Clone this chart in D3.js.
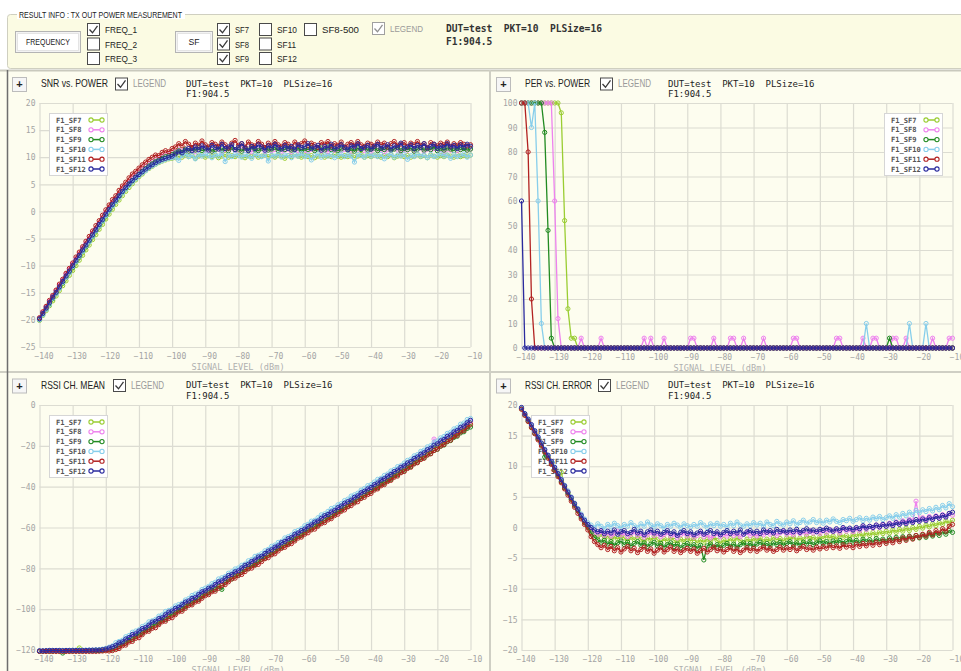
<!DOCTYPE html>
<html>
<head>
<meta charset="utf-8">
<script src="https://cdn.jsdelivr.net/npm/d3@7"></script>
<style>
  body { margin: 0; background: #ffffff; }
  svg { display: block; }
  text { font-family: "Liberation Sans", Arial, sans-serif; }
  .mono { font-family: "DejaVu Sans Mono", "Liberation Mono", monospace; }
</style>
</head>
<body>
<svg id="chart" width="961" height="671"></svg>
<script>
/* ---- chart values ---- */
var levels = d3.range(-140, -9);             // signal level -140 .. -10 dBm, 1 dB steps
var xTicks = [-140, -130, -120, -110, -100, -90, -80, -70, -60, -50, -40, -30, -20, -10];
var sfNames = ["F1_SF7", "F1_SF8", "F1_SF9", "F1_SF10", "F1_SF11", "F1_SF12"];
var sfColors = ["#9acd32", "#ee82ee", "#228b22", "#87ceeb", "#b22222", "#2a2a9e"];

var snrTicks = [20, 15, 10, 5, 0, -5, -10, -15, -20, -25];
var perTicks = [100, 90, 80, 70, 60, 50, 40, 30, 20, 10, 0];
var meanTicks = [0, -20, -40, -60, -80, -100, -120];
var errTicks = [20, 15, 10, 5, 0, -5, -10, -15, -20];

/* SNR vs POWER */
var snrSf7 = [-20.1,-19.2,-18.3,-17.4,-16.5,-15.6,-14.6,-13.7,-12.8,-11.8,
  -10.9,-10.0,-9.0,-8.1,-7.1,-6.2,-5.2,-4.3,-3.3,-2.4,
  -1.4,-0.5,0.4,1.3,2.1,2.9,3.7,4.4,5.1,5.8,
  6.4,6.9,7.5,7.9,8.3,8.7,9.0,9.3,9.5,9.7,9.8,
  9.9,10.2,10.0,10.4,10.1,10.3,9.8,10.2,10.5,10.0,
  10.3,10.1,10.4,9.9,10.2,10.5,10.0,10.3,10.1,10.4,
  10.2,9.9,10.3,10.1,10.5,10.0,10.2,10.4,10.1,10.3,
  10.0,10.4,10.2,9.8,10.3,10.1,10.5,10.2,10.0,10.4,
  10.1,10.3,9.9,10.2,10.4,10.0,10.3,10.1,10.5,10.2,
  10.0,10.3,10.1,10.4,9.9,10.2,10.5,10.0,10.3,10.1,
  10.4,10.2,10.0,10.3,10.1,10.5,9.9,10.2,10.4,10.1,
  10.3,10.0,10.2,10.5,10.1,10.3,9.9,10.4,10.2,10.0,
  10.3,10.1,10.4,10.2,10.0,10.5,10.1,10.3,10.2,10.4];
var snrSf8 = [-19.7,-18.6,-17.6,-16.6,-15.6,-14.6,-13.6,-12.6,-11.6,-10.7,
  -9.7,-8.7,-7.8,-6.8,-5.9,-5.0,-4.0,-3.1,-2.1,-1.2,
  -0.2,0.7,1.6,2.4,3.2,4.0,4.7,5.4,6.1,6.7,
  7.2,7.8,8.3,8.7,9.1,9.5,9.9,10.2,10.5,10.7,10.9,
  11.0,11.4,11.1,11.6,11.2,11.5,11.0,11.4,11.7,11.2,
  11.5,11.1,11.3,11.6,11.0,11.4,11.2,11.7,11.3,11.1,
  11.5,11.2,11.6,11.0,11.4,11.3,11.7,11.1,11.5,11.2,
  11.4,11.6,11.1,11.3,11.5,11.0,11.6,11.2,11.4,11.3,
  11.1,11.5,11.3,11.7,11.2,11.4,11.0,11.6,11.3,11.5,
  11.2,11.4,11.6,11.1,11.5,11.3,11.7,11.2,11.4,11.1,
  11.6,11.3,11.5,11.0,11.4,11.2,11.6,11.3,11.1,11.5,
  11.3,11.6,11.2,11.4,11.7,11.1,11.5,11.3,11.6,11.2,
  11.4,11.1,11.5,11.3,11.6,11.2,11.4,11.7,11.3,11.5];
var snrSf9 = [-19.9,-18.9,-18.0,-17.0,-16.1,-15.1,-14.1,-13.2,-12.2,-11.2,
  -10.3,-9.3,-8.4,-7.4,-6.5,-5.5,-4.6,-3.6,-2.7,-1.7,
  -0.8,0.2,1.1,1.9,2.8,3.6,4.3,5.0,5.7,6.3,
  6.9,7.4,7.9,8.4,8.8,9.2,9.5,9.8,10.1,10.3,10.5,
  10.8,11.2,10.9,11.5,11.1,11.6,11.3,11.8,11.2,11.5,
  11.7,11.1,11.4,11.9,11.3,11.6,11.2,11.8,11.4,11.5,
  11.1,11.7,11.3,11.9,11.4,11.2,11.6,11.8,11.3,11.5,
  11.8,11.2,11.6,11.4,11.9,11.3,11.5,11.7,11.1,11.6,
  11.4,11.8,11.2,11.5,11.7,11.3,11.9,11.4,11.6,11.2,
  11.5,11.8,11.3,11.6,11.1,11.7,11.4,11.9,11.3,11.5,
  11.7,11.2,11.6,11.4,11.8,11.3,11.5,11.9,11.2,11.6,
  11.4,11.7,11.1,11.5,11.8,11.3,11.6,11.4,11.9,11.2,
  11.6,11.3,11.7,11.5,11.2,11.8,11.4,11.6,11.3,11.5];
var snrSf10 = [-20.0,-19.1,-18.1,-17.2,-16.0,-15.2,-14.2,-13.1,-12.2,-11.3,
  -10.2,-9.3,-8.3,-7.4,-6.4,-5.6,-4.6,-3.6,-2.7,-1.8,
  -0.8,0.1,1.0,1.8,2.6,3.4,4.1,4.8,5.4,6.0,
  6.6,7.1,7.5,8.0,8.4,8.7,9.1,9.3,9.6,9.8,9.9,
  10.0,9.4,10.3,10.6,10.1,10.4,9.7,10.5,10.2,10.6,
  10.3,9.9,10.5,10.2,10.7,9.2,10.4,10.1,10.6,10.3,
  10.0,10.5,10.2,9.8,10.6,10.3,10.1,10.5,9.3,10.4,
  10.2,10.6,10.0,10.4,10.3,9.9,10.5,10.2,10.7,10.1,
  10.4,9.5,10.3,10.6,10.0,10.4,10.2,10.5,9.9,10.3,
  10.6,10.1,10.4,10.2,9.1,10.5,10.3,10.0,10.6,10.2,
  10.4,10.1,10.5,9.7,10.3,10.6,10.0,10.4,10.2,10.5,
  9.6,10.3,10.1,10.6,10.2,10.4,9.9,10.5,10.1,10.3,
  10.6,10.2,10.4,9.8,10.5,10.1,10.3,10.6,10.0,10.4];
var snrSf11 = [-19.6,-18.5,-17.5,-16.4,-15.5,-14.5,-13.4,-12.5,-11.4,-10.5,
  -9.5,-8.4,-7.5,-6.5,-5.5,-4.6,-3.6,-2.6,-1.7,-0.7,
  0.3,1.2,2.2,2.9,3.9,4.7,5.4,6.2,6.9,7.4,
  8.0,8.6,9.1,9.6,10.0,10.4,10.3,10.9,11.2,11.0,11.6,
  11.9,12.5,12.1,12.9,12.4,11.8,12.6,12.2,13.0,12.3,
  11.9,12.7,12.4,12.0,12.8,12.3,11.7,12.6,13.1,12.2,
  12.5,11.9,12.8,12.3,12.1,12.9,12.4,11.8,12.6,12.2,
  12.9,12.3,12.0,12.7,12.4,11.9,12.8,12.2,12.5,13.0,
  12.1,12.6,12.3,11.8,12.7,12.4,12.9,12.1,12.5,12.2,
  12.8,11.9,12.4,12.7,12.2,12.9,12.3,12.0,12.6,12.4,
  12.1,12.8,12.3,12.6,11.9,12.5,12.9,12.2,12.4,12.7,
  12.0,12.6,12.3,12.9,12.2,12.5,11.8,12.7,12.4,12.1,
  12.6,12.3,12.8,12.0,12.5,12.2,12.7,12.4,12.1,12.3];
var snrSf12 = [-19.8,-18.8,-17.8,-16.8,-15.8,-14.9,-13.9,-12.9,-11.9,-11.0,
  -10.0,-9.0,-8.1,-7.1,-6.2,-5.3,-4.3,-3.4,-2.4,-1.5,
  -0.5,0.4,1.3,2.1,2.9,3.7,4.4,5.1,5.7,6.3,
  6.8,7.3,7.8,8.2,8.6,9.0,9.3,9.6,9.8,10.0,10.2,
  10.6,11.0,10.8,11.3,11.6,11.2,11.9,11.4,12.1,11.7,
  11.3,12.2,11.8,11.5,12.4,11.6,11.9,12.3,11.4,11.8,
  12.5,11.7,11.2,12.0,11.6,12.3,11.9,11.3,12.1,11.7,
  12.4,11.8,11.5,12.2,11.6,12.0,11.4,12.3,11.8,11.9,
  12.5,11.6,11.9,12.2,11.3,12.0,11.7,12.4,11.5,11.9,
  12.3,11.8,11.4,12.1,11.9,12.5,11.6,11.8,12.2,11.5,
  12.0,12.4,11.7,11.9,12.3,11.5,12.1,11.8,12.6,11.7,
  11.9,12.3,11.6,12.2,11.8,12.5,11.7,12.0,12.4,11.6,
  12.1,11.8,12.5,11.9,12.2,11.6,12.3,11.8,12.4,12.0];

/* PER vs POWER (%) */
var perSf7 = [100,100,100,100,100,100,100,100,100,100,
  100,100,96,52,16,4,4,0,0,0,
  0,0,0,0,0,0,0,0,0,0, 0,0,0,0,0,0,0,0,0,0,
  0,0,0,0,0,0,0,0,0,0, 0,0,0,0,0,0,0,0,0,0,
  0,0,0,0,0,0,0,0,0,0, 0,0,0,0,0,0,0,0,0,0,
  0,0,0,0,0,0,0,0,0,0, 0,0,0,0,0,0,0,0,0,0,
  0,0,0,0,0,0,0,0,0,0, 0,0,0,0,0,0,0,0,0,0,
  0,0,0,0,0,0,0,0,0,0, 0];
var perSf8 = [100,100,100,100,100,100,100,100,100,100,
  60,12,0,0,0,0,0,0,4,0,
  0,0,0,0,4,0,0,0,0,0,
  0,0,0,0,0,0,0,4,0,4,
  0,0,0,4,0,0,0,0,0,0,
  0,4,4,0,0,0,0,0,4,0,
  0,0,0,4,4,0,0,4,0,0,
  0,0,0,4,0,0,0,0,0,0,
  0,0,4,4,0,0,0,0,0,0,
  0,0,0,0,0,4,4,0,0,0,
  0,0,0,4,0,0,4,4,0,0,
  0,0,4,4,0,0,4,0,0,0,
  0,0,0,0,4,0,0,0,0,4,
  4];
var perSf9 = [100,100,100,100,100,100,100,88,48,4,
  0,0,0,0,0,0,0,0,0,0, 0,0,0,0,0,0,0,0,0,0,
  0,0,0,0,0,0,0,0,0,0, 0,0,0,0,0,0,0,0,0,0,
  0,0,0,0,0,0,0,0,0,0, 0,0,0,0,0,0,0,0,0,0,
  0,0,0,0,0,0,0,0,0,0, 0,0,0,0,0,0,0,0,0,0,
  0,0,0,0,0,0,0,0,0,0, 0,0,0,0,0,0,0,0,0,0,
  0,4,0,0,0,0,0,0,0,0, 0,0,0,0,0,0,0,0,0,0,
  0];
var perSf10 = [100,100,100,90,100,60,10,0,0,0,
  0,0,0,0,0,0,0,0,0,0, 0,0,0,0,0,0,0,0,0,0,
  0,0,0,0,0,0,0,0,0,0, 0,0,0,0,0,0,0,0,0,0,
  0,0,0,0,0,0,0,0,0,0, 0,0,0,0,0,0,0,0,0,0,
  0,0,0,0,0,0,0,0,0,0, 0,0,0,0,0,0,0,0,0,0,
  0,0,0,0,0,0,0,0,0,0, 0,0,0,0,10,0,0,0,0,0,
  0,0,0,0,0,0,0,10,0,0, 0,0,10,0,0,0,0,0,0,0,
  0];
var perSf11 = [100,100,80,20,0,0,0,0,0,0,
  0,0,0,0,0,0,0,0,0,0, 0,0,0,0,0,0,0,0,0,0,
  0,0,0,0,0,0,0,0,0,0, 0,0,0,0,0,0,0,0,0,0,
  0,0,0,0,0,0,0,0,0,0, 0,0,0,0,0,0,0,0,0,0,
  0,0,0,0,0,0,0,0,0,0, 0,0,0,0,0,0,0,0,0,0,
  0,0,0,0,0,0,0,0,0,0, 0,0,0,0,0,0,0,0,0,0,
  0,0,0,0,0,0,0,0,0,0, 0,0,0,0,0,0,0,0,0,0,
  0];
var perSf12 = [60,0,0,0,0,0,0,0,0,0,
  0,0,0,0,0,0,0,0,0,0, 0,0,0,0,0,0,0,0,0,0,
  0,0,0,0,0,0,0,0,0,0, 0,0,0,0,0,0,0,0,0,0,
  0,0,0,0,0,0,0,0,0,0, 0,0,0,0,0,0,0,0,0,0,
  0,0,0,0,0,0,0,0,0,0, 0,0,0,0,0,0,0,0,0,0,
  0,0,0,0,0,0,0,0,0,0, 0,0,0,0,0,0,0,0,0,0,
  0,0,0,0,0,0,0,0,0,0, 0,0,0,0,0,0,0,0,0,0,
  0];

/* RSSI CH. MEAN (dBm) */
var meanSf7 = [-120.6,-120.6,-120.5,-120.5,-120.5,-120.5,-120.4,-120.4,-120.4,-120.4,
  -120.4,-120.3,-119.0,-120.3,-120.3,-120.3,-120.2,-120.2,-120.2,-120.0,-119.8,
  -119.6,-119.2,-118.5,-117.1,-116.8,-115.4,-115.0,-113.5,-112.9,-111.3,
  -110.7,-110.2,-108.6,-108.0,-106.4,-105.9,-105.3,-103.7,-103.1,-101.5,
  -101.0,-100.4,-98.8,-98.2,-96.6,-96.1,-95.5,-93.9,-93.3,-91.7,
  -91.2,-89.8,-89.5,-88.0,-87.4,-85.9,-85.3,-83.7,-83.1,-82.6,
  -81.0,-80.4,-78.8,-78.2,-76.7,-76.1,-75.5,-73.9,-73.3,-71.8,
  -71.1,-69.7,-69.3,-67.9,-67.2,-65.6,-65.0,-63.8,-63.2,-61.7,
  -60.9,-59.5,-59.1,-57.7,-57.0,-55.4,-54.8,-53.6,-53.0,-51.5,
  -50.8,-49.3,-48.7,-47.4,-46.9,-45.2,-44.6,-43.3,-42.7,-41.1,
  -40.5,-39.0,-38.4,-36.9,-36.3,-34.8,-34.2,-32.7,-32.0,-30.6,
  -29.9,-28.4,-27.8,-26.3,-25.6,-24.1,-23.5,-22.0,-21.3,-19.8,
  -19.1,-17.6,-16.9,-15.4,-14.7,-13.2,-12.5,-10.9,-10.3,-8.8];
var meanSf8 = [-120.5,-120.5,-120.5,-120.4,-120.4,-120.4,-120.4,-120.3,-120.3,-120.3,
  -120.3,-120.2,-120.2,-120.2,-120.2,-120.2,-120.1,-120.1,-120.0,-119.9,-119.6,
  -119.3,-118.8,-118.1,-116.7,-116.3,-114.9,-114.4,-113.0,-111.6,-111.2,
  -109.9,-109.5,-108.1,-106.7,-106.3,-105.0,-104.6,-103.2,-101.8,-101.3,
  -100.0,-99.5,-98.2,-96.8,-96.4,-95.1,-94.7,-93.2,-91.9,-91.4,
  -90.1,-89.6,-88.3,-86.9,-86.5,-85.2,-84.7,-83.3,-82.0,-81.5,
  -80.1,-79.4,-77.9,-77.3,-76.0,-75.5,-74.1,-72.8,-72.3,-71.0,
  -70.4,-68.9,-68.2,-66.7,-66.1,-64.8,-64.3,-62.9,-61.6,-61.1,
  -59.8,-59.2,-57.6,-57.0,-55.7,-55.1,-53.5,-52.9,-51.6,-51.0,
  -49.4,-48.8,-47.3,-46.7,-45.4,-44.9,-43.2,-42.6,-41.3,-40.7,
  -39.2,-38.5,-36.9,-36.3,-34.8,-34.1,-32.6,-32.0,-30.4,-29.8,
  -28.3,-27.6,-26.1,-25.4,-23.9,-23.2,-21.7,-21.0,-16.7,-18.8,
  -17.4,-16.7,-15.2,-14.6,-13.1,-12.4,-10.9,-10.2,-8.7,-8.0];
var meanSf9 = [-120.6,-120.6,-120.6,-120.6,-120.6,-120.5,-120.5,-121.5,-120.5,-120.5,
  -120.5,-120.5,-120.5,-120.5,-120.4,-120.4,-120.4,-120.3,-120.3,-120.2,-120.0,
  -119.9,-119.6,-119.0,-118.4,-117.1,-116.7,-115.3,-114.9,-113.5,-112.2,
  -111.8,-110.4,-110.0,-108.6,-107.3,-106.9,-105.5,-105.1,-103.7,-102.4,
  -102.0,-100.6,-100.2,-98.8,-97.5,-97.1,-95.7,-95.3,-93.9,-92.6,
  -92.1,-90.8,-90.4,-88.9,-90.3,-87.0,-85.7,-85.2,-83.8,-83.3,
  -81.9,-80.6,-80.1,-78.7,-78.2,-76.8,-75.5,-75.0,-73.6,-73.1,
  -71.7,-70.4,-69.9,-68.6,-68.0,-66.5,-65.8,-64.4,-63.9,-62.6,
  -61.3,-60.8,-59.5,-58.9,-57.4,-56.7,-55.3,-54.8,-53.5,-52.2,
  -51.6,-50.3,-49.7,-48.2,-47.5,-46.1,-45.6,-44.3,-43.0,-42.4,
  -41.1,-40.5,-38.9,-38.3,-37.0,-36.4,-34.8,-34.2,-32.9,-32.3,
  -30.7,-30.1,-28.6,-28.0,-26.5,-25.9,-24.4,-23.8,-22.3,-21.7,
  -20.2,-19.6,-18.0,-17.4,-15.9,-15.3,-13.7,-13.1,-11.5,-10.8];
var meanSf10 = [-120.5,-120.5,-120.4,-120.4,-120.3,-120.3,-120.3,-120.2,-120.2,-120.2,
  -120.1,-120.1,-120.1,-120.1,-120.0,-120.0,-120.0,-119.9,-119.8,-119.6,-119.2,
  -118.6,-118.0,-116.4,-115.8,-115.2,-113.5,-112.9,-111.3,-110.7,-110.1,
  -108.5,-107.8,-106.2,-105.7,-105.0,-103.4,-102.8,-101.1,-100.6,-99.9,
  -98.4,-97.7,-97.1,-95.5,-94.8,-93.3,-92.6,-92.0,-90.4,-89.7,
  -88.9,-87.5,-86.8,-85.2,-84.6,-84.0,-82.4,-81.7,-80.3,-79.8,
  -78.5,-77.9,-76.3,-75.7,-74.1,-73.6,-72.8,-71.4,-70.7,-69.2,
  -68.6,-67.3,-66.8,-65.1,-64.5,-63.7,-62.0,-61.4,-60.6,-59.1,
  -58.4,-56.9,-56.5,-55.2,-53.8,-53.3,-52.1,-50.7,-50.2,-48.9,
  -48.3,-46.8,-46.1,-44.6,-44.0,-43.2,-41.7,-40.9,-39.5,-39.0,
  -37.7,-36.4,-35.9,-34.5,-33.8,-32.3,-31.6,-30.2,-29.7,-28.4,
  -27.1,-26.5,-24.9,-24.3,-22.7,-22.1,-20.5,-19.9,-18.2,-17.6,
  -16.1,-15.4,-13.9,-13.3,-11.7,-11.1,-9.4,-8.8,-7.1,-6.6];
var meanSf11 = [-120.7,-120.7,-120.7,-120.7,-120.7,-120.7,-120.7,-120.7,-120.7,-120.7,
  -120.7,-120.7,-120.7,-120.7,-120.7,-120.7,-120.7,-120.7,-120.6,-120.5,-120.4,
  -120.5,-120.3,-119.8,-119.3,-117.9,-117.6,-116.1,-115.8,-114.3,-114.0,
  -112.5,-111.1,-110.8,-109.4,-109.1,-107.6,-106.2,-105.9,-104.5,-104.2,
  -102.7,-101.3,-101.0,-99.6,-98.2,-97.9,-96.5,-96.1,-94.7,-93.4,
  -92.9,-91.5,-91.2,-89.8,-88.4,-88.0,-86.6,-85.2,-84.8,-83.5,
  -83.0,-81.6,-80.3,-79.9,-78.5,-78.1,-76.7,-75.3,-74.8,-73.4,
  -72.9,-71.5,-70.2,-69.7,-68.4,-67.9,-66.6,-65.2,-64.7,-63.3,
  -62.6,-61.2,-60.8,-59.4,-58.1,-57.6,-56.3,-55.7,-54.2,-53.5,
  -52.1,-51.4,-49.9,-49.3,-48.0,-47.4,-45.8,-45.2,-43.9,-43.3,
  -41.7,-41.1,-39.6,-39.0,-37.5,-36.9,-35.4,-34.8,-33.2,-32.6,
  -31.1,-30.5,-28.9,-28.3,-26.7,-26.1,-24.5,-23.9,-22.3,-21.6,
  -20.1,-19.4,-17.8,-17.2,-15.5,-14.9,-13.2,-12.6,-10.8,-9.5];
var meanSf12 = [-120.4,-120.4,-120.3,-120.2,-120.2,-120.2,-120.2,-120.3,-120.2,-120.2,
  -120.2,-120.2,-120.2,-120.2,-120.2,-120.1,-120.1,-120.0,-120.0,-119.8,-119.5,
  -119.0,-118.4,-117.7,-116.5,-116.0,-114.6,-113.9,-112.4,-112.1,-110.7,
  -109.5,-109.0,-107.8,-106.3,-105.9,-104.6,-104.2,-102.7,-101.4,-100.9,
  -99.6,-99.1,-97.8,-96.5,-96.0,-94.7,-94.3,-92.8,-91.5,-91.0,
  -89.7,-89.2,-87.9,-86.6,-86.1,-84.8,-83.5,-83.0,-81.7,-81.2,
  -79.8,-78.5,-78.0,-76.6,-75.9,-74.4,-74.1,-72.7,-71.5,-70.9,
  -69.6,-69.0,-67.4,-66.8,-65.5,-64.9,-63.3,-62.7,-61.5,-60.8,
  -59.4,-58.7,-57.3,-56.8,-55.5,-54.2,-53.6,-52.4,-51.7,-50.3,
  -49.5,-48.1,-47.4,-46.6,-45.2,-44.5,-43.0,-42.3,-41.1,-40.4,
  -39.0,-38.2,-36.7,-36.1,-34.8,-34.0,-32.6,-31.9,-30.5,-29.8,
  -28.4,-27.7,-26.2,-25.5,-24.1,-23.4,-21.9,-21.2,-19.7,-19.0,
  -17.6,-16.9,-15.4,-14.7,-13.2,-12.5,-11.0,-10.3,-8.7,-7.5];

/* RSSI CH. ERROR (dB) */
var errSf7 = [19.4,18.4,17.5,16.5,15.5,14.5,13.6,12.6,11.6,10.6,
  9.6,8.7,9.0,6.7,5.7,4.7,3.8,2.8,1.8,1.0,0.2,
  -0.6,-1.2,-1.5,-1.1,-1.8,-1.4,-2.0,-1.5,-1.9,-1.3,
  -1.7,-2.2,-1.6,-2.0,-1.4,-1.9,-2.3,-1.7,-2.1,-1.5,
  -2.0,-2.4,-1.8,-2.2,-1.6,-2.1,-2.5,-1.9,-2.3,-1.7,
  -2.2,-1.8,-2.5,-2.0,-2.4,-1.9,-2.3,-1.7,-2.1,-2.6,
  -2.0,-2.4,-1.8,-2.2,-1.7,-2.1,-2.5,-1.9,-2.3,-1.8,
  -2.1,-1.7,-2.3,-1.9,-2.2,-1.6,-2.0,-1.8,-2.2,-1.7,
  -1.9,-1.5,-2.1,-1.7,-2.0,-1.4,-1.8,-1.6,-2.0,-1.5,
  -1.8,-1.3,-1.7,-1.4,-1.9,-1.2,-1.6,-1.3,-1.7,-1.1,
  -1.5,-1.0,-1.4,-0.9,-1.3,-0.8,-1.2,-0.7,-1.0,-0.6,
  -0.9,-0.4,-0.8,-0.3,-0.6,-0.1,-0.5,0.0,-0.3,0.2,
  -0.1,0.4,0.1,0.6,0.3,0.8,0.5,1.1,0.7,1.2];
var errSf8 = [19.5,18.5,17.5,16.6,15.6,14.6,13.6,12.7,11.7,10.7,
  9.7,8.8,7.8,6.8,5.8,4.8,3.9,2.9,2.0,1.1,0.4,
  -0.3,-0.8,-1.1,-0.7,-1.3,-0.9,-1.4,-1.0,-0.6,-1.2,
  -0.9,-1.5,-1.1,-0.7,-1.3,-1.0,-1.6,-1.2,-0.8,-1.3,
  -1.0,-1.5,-1.2,-0.8,-1.4,-1.1,-1.7,-1.2,-0.9,-1.4,
  -1.1,-1.6,-1.3,-0.9,-1.5,-1.2,-1.7,-1.3,-1.0,-1.5,
  -1.1,-1.4,-0.9,-1.3,-1.0,-1.5,-1.1,-0.8,-1.3,-1.0,
  -1.4,-0.9,-1.2,-0.7,-1.1,-0.8,-1.3,-0.9,-0.6,-1.1,
  -0.8,-1.2,-0.6,-1.0,-0.7,-1.1,-0.5,-0.9,-0.6,-1.0,
  -0.4,-0.8,-0.3,-0.7,-0.4,-0.9,-0.2,-0.6,-0.3,-0.7,
  -0.2,-0.5,0.1,-0.3,0.2,-0.1,0.4,0.0,0.6,0.2,
  0.7,0.4,0.9,0.6,1.1,0.8,1.3,1.0,4.3,1.2,
  1.6,1.3,1.8,1.4,1.9,1.6,2.1,1.8,2.3,2.0];
var errSf9 = [19.4,18.4,17.4,16.4,15.4,14.5,13.5,11.5,11.5,10.5,
  9.5,8.5,7.5,6.5,5.6,4.6,3.6,2.7,1.7,0.8,0.0,
  -0.9,-1.6,-2.0,-2.4,-2.1,-2.7,-2.3,-2.9,-2.5,-2.2,
  -2.8,-2.4,-3.0,-2.6,-2.3,-2.9,-2.5,-3.1,-2.7,-2.4,
  -3.0,-2.6,-3.2,-2.8,-2.5,-3.1,-2.7,-3.3,-2.9,-2.6,
  -3.1,-2.8,-3.4,-2.9,-5.3,-3.0,-2.7,-3.2,-2.8,-3.3,
  -2.9,-2.6,-3.1,-2.7,-3.2,-2.8,-2.5,-3.0,-2.6,-3.1,
  -2.7,-2.4,-2.9,-2.6,-3.0,-2.5,-2.8,-2.4,-2.9,-2.6,
  -2.3,-2.8,-2.5,-2.9,-2.4,-2.7,-2.3,-2.8,-2.5,-2.2,
  -2.6,-2.3,-2.7,-2.2,-2.5,-2.1,-2.6,-2.3,-2.0,-2.4,
  -2.1,-2.5,-1.9,-2.3,-2.0,-2.4,-1.8,-2.2,-1.9,-2.3,
  -1.7,-2.1,-1.6,-2.0,-1.5,-1.9,-1.4,-1.8,-1.3,-1.7,
  -1.2,-1.6,-1.0,-1.4,-0.9,-1.3,-0.7,-1.1,-0.5,-0.8];
var errSf10 = [19.5,18.5,17.6,16.6,15.7,14.7,13.7,12.8,11.8,10.8,
  9.9,8.9,7.9,6.9,6.0,5.0,4.0,3.1,2.2,1.4,0.8,
  0.4,0.0,0.6,0.2,-0.2,0.5,0.1,0.7,0.3,-0.1,
  0.5,0.2,0.8,0.3,0.0,0.6,0.2,0.9,0.4,0.1,
  0.6,0.3,-0.1,0.5,0.2,0.7,0.4,0.0,0.6,0.3,
  0.1,0.5,0.2,0.8,0.4,0.0,0.6,0.3,0.7,0.2,
  0.5,0.1,0.7,0.3,0.9,0.4,0.2,0.6,0.3,0.8,
  0.4,0.7,0.2,0.9,0.5,0.3,1.0,0.6,0.4,0.9,
  0.6,1.1,0.5,0.8,1.2,0.7,0.9,1.3,0.8,1.1,
  0.7,1.2,0.9,1.4,1.0,0.8,1.3,1.1,1.5,1.0,
  1.3,1.6,1.1,1.5,1.2,1.7,1.4,1.8,1.3,1.6,
  1.9,1.5,2.1,1.7,2.3,1.9,2.5,2.1,2.8,2.4,
  2.9,2.6,3.1,2.7,3.3,2.9,3.6,3.2,3.9,3.4];
var errSf11 = [19.3,18.3,17.3,16.3,15.3,14.3,13.3,12.3,11.3,10.3,
  9.3,8.3,7.3,6.3,5.3,4.3,3.3,2.3,1.4,0.5,-0.4,
  -1.5,-2.3,-2.8,-3.3,-2.9,-3.6,-3.1,-3.8,-3.3,-4.0,
  -3.5,-3.1,-3.8,-3.4,-4.1,-3.6,-3.2,-3.9,-3.5,-4.2,
  -3.7,-3.3,-4.0,-3.6,-3.2,-3.9,-3.5,-4.1,-3.7,-3.4,
  -3.9,-3.5,-4.2,-3.8,-3.4,-4.0,-3.6,-3.2,-3.8,-3.5,
  -4.0,-3.6,-3.3,-3.9,-3.5,-4.1,-3.7,-3.3,-3.8,-3.4,
  -3.9,-3.5,-3.2,-3.7,-3.4,-3.9,-3.6,-3.2,-3.7,-3.3,
  -3.6,-3.2,-3.8,-3.4,-3.1,-3.6,-3.3,-3.7,-3.2,-3.5,
  -3.1,-3.4,-2.9,-3.3,-3.0,-3.4,-2.8,-3.2,-2.9,-3.3,
  -2.7,-3.1,-2.6,-3.0,-2.5,-2.9,-2.4,-2.8,-2.2,-2.6,
  -2.1,-2.5,-1.9,-2.3,-1.7,-2.1,-1.5,-1.9,-1.3,-1.6,
  -1.1,-1.4,-0.8,-1.2,-0.5,-0.9,-0.2,-0.6,0.2,0.5];
var errSf12 = [19.6,18.6,17.7,16.8,15.8,14.8,13.8,12.7,11.8,10.8,
  9.8,8.8,7.8,6.8,5.8,4.9,3.9,3.0,2.0,1.2,0.5,
  0.0,-0.4,-0.7,-0.5,-1.0,-0.6,-0.9,-0.4,-1.1,-0.7,
  -0.5,-1.0,-0.8,-0.3,-0.9,-0.6,-1.2,-0.7,-0.4,-0.9,
  -0.6,-1.1,-0.8,-0.5,-1.0,-0.7,-1.3,-0.8,-0.5,-1.0,
  -0.7,-1.2,-0.9,-0.6,-1.1,-0.8,-0.5,-1.0,-0.7,-1.2,
  -0.8,-0.5,-1.0,-0.6,-0.9,-0.4,-1.1,-0.7,-0.5,-0.9,
  -0.6,-1.0,-0.4,-0.8,-0.5,-0.9,-0.3,-0.7,-0.5,-0.8,
  -0.4,-0.7,-0.3,-0.8,-0.5,-0.2,-0.6,-0.4,-0.7,-0.3,
  -0.5,-0.1,-0.4,-0.6,-0.2,-0.5,0.0,-0.3,-0.1,-0.4,
  0.0,-0.2,0.3,-0.1,0.2,0.0,0.4,0.1,0.5,0.2,
  0.6,0.3,0.8,0.5,0.9,0.6,1.1,0.8,1.3,1.0,
  1.4,1.1,1.6,1.3,1.8,1.5,2.0,1.7,2.3,2.5];

/* ---- drawing ---- */
var svg = d3.select("#chart");
var paleBg = "#fdfdef", headBg = "#fbfbe3", gridCol = "#dcdcd2";

svg.append("rect").attr("width", 961).attr("height", 671).attr("fill", paleBg);
svg.append("rect").attr("width", 961).attr("height", 70).attr("fill", "#ffffff");

// UI label; len squeezes the text to the narrow look of the original UI font
function label(g, x, y, txt, size, fill, len) {
  var t = g.append("text").attr("x", x).attr("y", y).attr("font-size", size).attr("fill", fill).text(txt);
  if (len) t.attr("textLength", len).attr("lengthAdjust", "spacingAndGlyphs");
  return t;
}
function checkbox(g, x, y, checked, disabled) {
  g.append("rect").attr("x", x + 0.5).attr("y", y + 0.5).attr("width", 12).attr("height", 12)
    .attr("fill", "#ffffff").attr("stroke", disabled ? "#a0a0a0" : "#4a4a4a");
  if (checked) {
    g.append("path")
      .attr("d", "M" + (x + 2.5) + "," + (y + 6.5) + "L" + (x + 5.5) + "," + (y + 9.8) + "L" + (x + 10.5) + "," + (y + 2.8))
      .attr("fill", "none").attr("stroke", disabled ? "#909090" : "#3a3a3a").attr("stroke-width", 1.3);
  }
}
function button(g, x, y, w, h, txt, len) {
  g.append("rect").attr("x", x + 0.5).attr("y", y + 0.5).attr("width", w).attr("height", h)
    .attr("fill", "#f3f3f3").attr("stroke", "#b4b4b4");
  g.append("rect").attr("x", x + 2.5).attr("y", y + 2.5).attr("width", w - 4).attr("height", h - 4)
    .attr("fill", "#ffffff").attr("stroke", "#e4e4e4");
  label(g, x + w / 2 + 0.5, y + h / 2 + 3.5, txt, 9.5, "#222", len).attr("text-anchor", "middle");
}

/* header: RESULT INFO box */
var head = svg.append("g");
head.append("rect").attr("x", 7.5).attr("y", 14.5).attr("width", 965).attr("height", 54).attr("rx", 3)
  .attr("fill", headBg).attr("stroke", "#cfcfc0");
head.append("rect").attr("x", 17).attr("y", 9).attr("width", 168).attr("height", 10).attr("fill", "#ffffff");
label(head, 19, 17.5, "RESULT INFO : TX OUT POWER MEASUREMENT", 9.4, "#222", 163);
button(head, 15, 31, 65, 21, "FREQUENCY", 44);
[["FREQ_1", true], ["FREQ_2", false], ["FREQ_3", false]].forEach(function (f, i) {
  checkbox(head, 87, 23 + i * 14.5, f[1], false);
  label(head, 105, 33 + i * 14.5, f[0], 9.4, "#222", 32);
});
button(head, 175, 31, 37, 21, "SF", 11);
[["SF7", true, 217, 0, 14], ["SF8", true, 217, 1, 14], ["SF9", true, 217, 2, 14],
 ["SF10", false, 259, 0, 20], ["SF11", false, 259, 1, 19], ["SF12", false, 259, 2, 20],
 ["SF8-500", false, 304, 0, 37]].forEach(function (f) {
  checkbox(head, f[2], 23 + f[3] * 14.5, f[1], false);
  label(head, f[2] + 18, 33 + f[3] * 14.5, f[0], 9.4, "#222", f[4]);
});
checkbox(head, 372, 22, true, true);
label(head, 390, 32, "LEGEND", 9.4, "#9a9a9a", 33);
head.append("text").attr("class", "mono").attr("x", 446).attr("y", 32).attr("font-size", 9.6).attr("font-weight", "bold")
  .attr("fill", "#333").attr("xml:space", "preserve").text("DUT=test  PKT=10  PLSize=16");
head.append("text").attr("class", "mono").attr("x", 446).attr("y", 45).attr("font-size", 9.6).attr("font-weight", "bold")
  .attr("fill", "#333").text("F1:904.5");

/* panel frames */
svg.append("line").attr("x1", 0).attr("x2", 961).attr("y1", 70.5).attr("y2", 70.5).attr("stroke", "#c9c9bd").attr("stroke-width", 2);
svg.append("line").attr("x1", 0).attr("x2", 961).attr("y1", 372).attr("y2", 372).attr("stroke", "#cfcfc4").attr("stroke-width", 2);
svg.append("line").attr("x1", 490).attr("x2", 490).attr("y1", 70).attr("y2", 671).attr("stroke", "#cfcfc4").attr("stroke-width", 2);
svg.append("line").attr("x1", 7.5).attr("x2", 7.5).attr("y1", 70).attr("y2", 671).attr("stroke", "#6e6e6e").attr("stroke-width", 1.5);

var panels = [
  { title: "SNR vs. POWER", tlen: 67, x0: 8, y0: 72, cb: 115, dut: 186, left: 39.5, right: 470.5, top: 103, bottom: 347,
    domain: [-25, 20], ticks: snrTicks, legendX: 49, series: [snrSf7, snrSf8, snrSf9, snrSf10, snrSf11, snrSf12] },
  { title: "PER vs. POWER", tlen: 65, x0: 492, y0: 72, cb: 600, dut: 668, left: 521.5, right: 952.5, top: 103, bottom: 348,
    domain: [0, 100], ticks: perTicks, legendX: 884, series: [perSf7, perSf8, perSf9, perSf10, perSf11, perSf12] },
  { title: "RSSI CH. MEAN", tlen: 64, x0: 8, y0: 373.5, cb: 113, dut: 186, left: 39.5, right: 470.5, top: 405, bottom: 650,
    domain: [-120, 0], ticks: meanTicks, legendX: 49, series: [meanSf7, meanSf8, meanSf9, meanSf10, meanSf11, meanSf12] },
  { title: "RSSI CH. ERROR", tlen: 67, x0: 492, y0: 373.5, cb: 598, dut: 668, left: 521.5, right: 952.5, top: 405, bottom: 650,
    domain: [-20, 20], ticks: errTicks, legendX: 531, series: [errSf7, errSf8, errSf9, errSf10, errSf11, errSf12] }
];

panels.forEach(function (p) {
  var g = svg.append("g");

  // small "+" button, title and options row
  g.append("rect").attr("x", p.x0 + 4.5).attr("y", p.y0 + 5.5).attr("width", 14).attr("height", 14)
    .attr("fill", "#f6f6f6").attr("stroke", "#bcbcbc");
  g.append("text").attr("x", p.x0 + 11.5).attr("y", p.y0 + 16).attr("text-anchor", "middle")
    .attr("font-size", 11).attr("font-weight", "bold").attr("fill", "#222").text("+");
  label(g, p.x0 + 33, p.y0 + 15, p.title, 10.4, "#222", p.tlen);
  checkbox(g, p.cb, p.y0 + 5.5, true, false);
  label(g, p.cb + 18, p.y0 + 15, "LEGEND", 10.4, "#9a9a9a", 33);
  g.append("text").attr("class", "mono").attr("x", p.dut).attr("y", p.y0 + 14.5).attr("font-size", 9)
    .attr("fill", "#1e1e1e").attr("xml:space", "preserve").text("DUT=test  PKT=10  PLSize=16");
  g.append("text").attr("class", "mono").attr("x", p.dut).attr("y", p.y0 + 25).attr("font-size", 9)
    .attr("fill", "#1e1e1e").text("F1:904.5");

  var x = d3.scaleLinear().domain([-140, -10]).range([p.left, p.right]);
  var y = d3.scaleLinear().domain(p.domain).range([p.bottom, p.top]);
  var w = p.right - p.left, h = p.bottom - p.top;

  // grid + tick labels from d3 axes
  var gx = g.append("g").attr("transform", "translate(0," + p.top + ")")
    .call(d3.axisBottom(x).tickValues(xTicks).tickSize(h).tickFormat(d3.format("d")));
  var gy = g.append("g").attr("transform", "translate(" + p.left + ",0)")
    .call(d3.axisLeft(y).tickValues(p.ticks).tickSize(-w).tickPadding(4).tickFormat(d3.format("d")));
  [gx, gy].forEach(function (a) {
    a.select(".domain").remove();
    a.selectAll(".tick line").attr("stroke", gridCol).attr("stroke-width", 1.2);
    a.selectAll(".tick text").attr("class", "mono").attr("font-size", 8).attr("fill", "#a4a4a4");
  });
  gx.selectAll(".tick text").attr("y", h + 11.5).attr("dy", null).attr("dx", 4);
  gy.selectAll(".tick text").attr("dy", "0.34em");

  g.append("text").attr("class", "mono").attr("x", (p.left + p.right) / 2 - 17).attr("y", p.bottom + 22.5)
    .attr("text-anchor", "middle").attr("font-size", 8.6).attr("fill", "#b0b0b0").text("SIGNAL LEVEL (dBm)");

  // legend (drawn under the series)
  var lg = g.append("g").attr("transform", "translate(" + p.legendX + "," + (p.top + 10) + ")");
  lg.append("rect").attr("x", 0.5).attr("y", 0.5).attr("width", 58).attr("height", 62)
    .attr("fill", "#ffffff").attr("stroke", "#d6d6d6");
  sfNames.forEach(function (name, k) {
    var ly = 7 + k * 9.8;
    lg.append("text").attr("class", "mono").attr("x", 7).attr("y", ly + 2.6).attr("font-size", 7.1)
      .attr("font-weight", "bold").attr("fill", "#555").text(name);
    lg.append("line").attr("x1", 42).attr("x2", 53).attr("y1", ly).attr("y2", ly)
      .attr("stroke", sfColors[k]).attr("stroke-width", 1.5);
    [42, 53].forEach(function (cx) {
      lg.append("circle").attr("cx", cx).attr("cy", ly).attr("r", 2.1)
        .attr("fill", "#ffffff").attr("stroke", sfColors[k]).attr("stroke-width", 1.1);
    });
  });

  // series
  var line = d3.line().x(function (d, i) { return x(levels[i]); }).y(function (d) { return y(d); });
  p.series.forEach(function (vals, k) {
    var sg = g.append("g");
    sg.append("path").datum(vals).attr("d", line).attr("fill", "none")
      .attr("stroke", sfColors[k]).attr("stroke-width", 1.3);
    sg.selectAll("circle").data(vals).join("circle")
      .attr("cx", function (d, i) { return x(levels[i]); })
      .attr("cy", function (d) { return y(d); })
      .attr("r", 2.1).attr("fill", "none").attr("stroke", sfColors[k]).attr("stroke-width", 1);
  });
});
</script>
</body>
</html>
